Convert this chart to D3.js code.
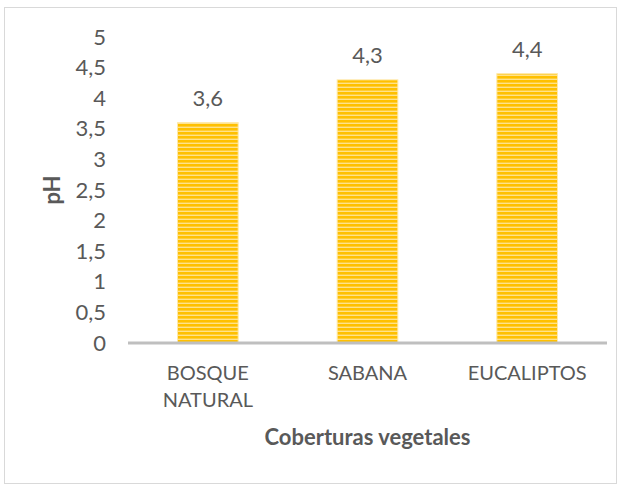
<!DOCTYPE html>
<html>
<head>
<meta charset="utf-8">
<script src="https://cdnjs.cloudflare.com/ajax/libs/d3/7.8.5/d3.min.js"></script>
<style>
  body { margin: 0; background: #fff; }
  text { font-family: Lato, "Open Sans", sans-serif; fill: #595959; }
  .tick-lbl { font-size: 20px; }
  .num-lbl { font-size: 22px; }
  .title { font-size: 22px; font-weight: bold; }
</style>
</head>
<body>
<div id="container"></div>
<script>
const categories = [["BOSQUE", "NATURAL"], ["SABANA"], ["EUCALIPTOS"]];
const phValues = [3.6, 4.3, 4.4];
const valueLabels = ["3,6", "4,3", "4,4"];
const yTicks = [0, 0.5, 1, 1.5, 2, 2.5, 3, 3.5, 4, 4.5, 5];
const yTickLabels = ["0", "0,5", "1", "1,5", "2", "2,5", "3", "3,5", "4", "4,5", "5"];

const W = 618, H = 486;
const plotL = 128, plotR = 607, plotT = 37, plotB = 343;

const svg = d3.select("#container").append("svg")
  .attr("width", W)
  .attr("height", H);

// stripe pattern for the bars
const defs = svg.append("defs");
const pat = defs.append("pattern")
  .attr("id", "stripes")
  .attr("patternUnits", "userSpaceOnUse")
  .attr("width", 8).attr("height", 4);
pat.append("rect").attr("width", 8).attr("height", 4).attr("fill", "#ffe28a");
pat.append("rect").attr("y", 0).attr("width", 8).attr("height", 2.6).attr("fill", "#ffc000");

// outer frame
svg.append("rect")
  .attr("x", 4.5).attr("y", 7.5)
  .attr("width", 612).attr("height", 476)
  .attr("fill", "none")
  .attr("stroke", "#d9d9d9")
  .attr("stroke-width", 1);

const x = d3.scaleBand()
  .range([plotL, plotR])
  .domain(d3.range(categories.length))
  .paddingInner(0.62)
  .paddingOuter(0.31);

const y = d3.scaleLinear()
  .range([plotB, plotT])
  .domain([0, 5]);

// bars
svg.selectAll(".bar")
  .data(phValues)
  .enter()
  .append("rect")
  .attr("class", "bar")
  .attr("x", (d, i) => x(i))
  .attr("y", d => y(d))
  .attr("width", x.bandwidth())
  .attr("height", d => y(0) - y(d))
  .attr("fill", "url(#stripes)")
  .attr("stroke", "#ffe9a8")
  .attr("stroke-width", 1);

// baseline
svg.append("line")
  .attr("x1", plotL).attr("x2", plotR)
  .attr("y1", y(0)).attr("y2", y(0))
  .attr("stroke", "#bfbfbf")
  .attr("stroke-width", 3);

// y axis ticks (no axis line)
const yAxis = svg.append("g")
  .attr("transform", "translate(106,0)")
  .call(d3.axisLeft(y).tickValues(yTicks).tickSize(0).tickPadding(0)
    .tickFormat((d, i) => yTickLabels[i]));
yAxis.select(".domain").remove();
yAxis.selectAll("text")
  .attr("class", "num-lbl")
  .attr("fill", "#595959")
  .style("font-family", "Lato, 'Open Sans', sans-serif")
  .style("font-size", "22px");

// value labels
svg.selectAll(".value")
  .data(phValues)
  .enter()
  .append("text")
  .attr("class", "num-lbl")
  .attr("x", (d, i) => x(i) + x.bandwidth() / 2)
  .attr("y", d => y(d) - 17)
  .attr("text-anchor", "middle")
  .text((d, i) => valueLabels[i]);

// category labels
const cat = svg.selectAll(".cat")
  .data(categories)
  .enter()
  .append("text")
  .attr("class", "tick-lbl")
  .attr("text-anchor", "middle")
  .attr("transform", (d, i) => `translate(${x(i) + x.bandwidth() / 2},380)`);
cat.selectAll("tspan")
  .data(d => d)
  .enter()
  .append("tspan")
  .attr("x", 0)
  .attr("dy", (d, j) => j === 0 ? 0 : 27)
  .text(d => d);

// axis titles
svg.append("text")
  .attr("class", "title")
  .attr("text-anchor", "middle")
  .attr("transform", `translate(60,${(plotT + plotB) / 2}) rotate(-90)`)
  .text("pH");

svg.append("text")
  .attr("class", "title")
  .attr("x", (plotL + plotR) / 2)
  .attr("y", 445)
  .attr("text-anchor", "middle")
  .text("Coberturas vegetales");
</script>
</body>
</html>
